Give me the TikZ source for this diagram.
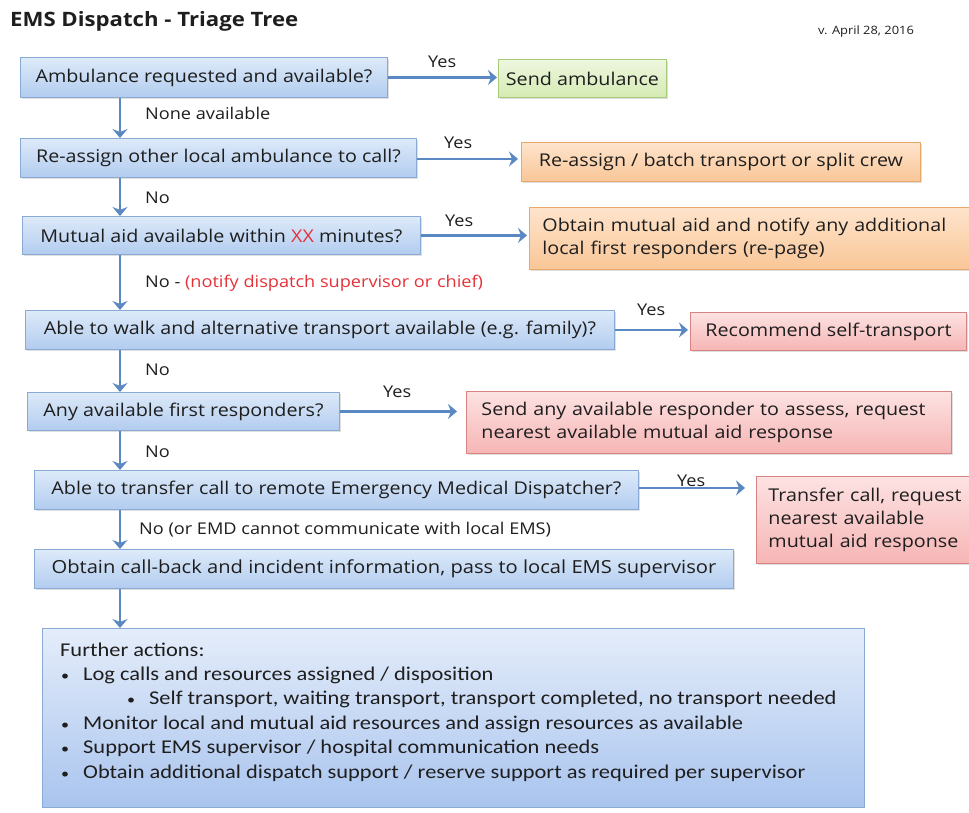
\documentclass[tikz,border=0pt]{standalone}
\usepackage{fontspec}
\setmainfont{Open Sans}[FakeStretch=1.12]
\newfontfamily\calib{Carlito}[FakeStretch=1.15]
\usetikzlibrary{arrows.meta,shadows}
\definecolor{bluetop}{HTML}{DDEAF9}
\definecolor{bluebot}{HTML}{B2CCEF}
\definecolor{fintop}{HTML}{E4EDFA}
\definecolor{finbot}{HTML}{A9C4EE}
\definecolor{blueline}{HTML}{8AAAD6}
\definecolor{greentop}{HTML}{EEF7DF}
\definecolor{greenbot}{HTML}{D5EAB3}
\definecolor{greenline}{HTML}{A6C97A}
\definecolor{orangetop}{HTML}{FEE4CC}
\definecolor{orangebot}{HTML}{F9C697}
\definecolor{orangeline}{HTML}{E8A86A}
\definecolor{redtop}{HTML}{FDE2E2}
\definecolor{redbot}{HTML}{F6B5B5}
\definecolor{redline}{HTML}{D98282}
\definecolor{arrowcol}{HTML}{5A88C2}
\definecolor{txt}{HTML}{1E1E1E}
\definecolor{redtxt}{HTML}{E5323A}
\tikzset{
  base/.style={anchor=north west, inner sep=0pt, line width=0.9pt, text=txt,
    font=\fontsize{17.6}{23}\selectfont,
    drop shadow={opacity=0.25, shadow xshift=1.2pt, shadow yshift=-1.5pt}},
  qbox/.style={base, draw=blueline, top color=bluetop, bottom color=bluebot},
  gbox/.style={base, draw=greenline, top color=greentop, bottom color=greenbot},
  obox/.style={base, draw=orangeline, top color=orangetop, bottom color=orangebot},
  rbox/.style={base, draw=redline, top color=redtop, bottom color=redbot},
  arr/.style={draw=arrowcol, line width=2.6pt, -{Stealth[length=9pt,width=15pt,inset=3pt]}},
  lbl/.style={anchor=base west, inner sep=0pt, text=txt, font=\fontsize{16.2}{20}\selectfont},
  fin/.style={anchor=base west, inner sep=0pt, text=txt, font=\calib\fontsize{19.5}{23}\selectfont},
  bul/.style={anchor=base west, inner sep=0pt, text=txt, font=\calib\fontsize{14}{16}\selectfont},
}
\begin{document}
\begin{tikzpicture}[x=1pt,y=-1pt]
\useasboundingbox[fill=white] (0,0) rectangle (969,813);
\coordinate (x120) at (120,0);
% title
\node[anchor=base west, inner sep=0pt, text=txt, font=\bfseries\fontsize{19.8}{22}\selectfont] (title) at (10,27) {EMS Dispatch - Triage Tree};
\node[anchor=base west, inner sep=0pt, text=txt, font=\fontsize{11.5}{14}\selectfont] (ver) at (818,35) {v. April 28, 2016};
% question boxes
\node[qbox, minimum width=367pt, minimum height=40pt] (q1) at (20,57) {Ambulance requested and available?};
\node[qbox, minimum width=396pt, minimum height=39pt] (q2) at (20,138) {Re-assign other local ambulance to call?};
\node[qbox, minimum width=398pt, minimum height=38pt] (q3) at (22,216) {Mutual aid available within \textcolor{redtxt}{XX} minutes?};
\node[qbox, minimum width=589pt, minimum height=39pt] (q4) at (25,310) {Able to walk and alternative transport available (e.g. family)?};
\node[qbox, minimum width=312pt, minimum height=38pt] (q5) at (27,392) {Any available first responders?};
\node[qbox, minimum width=604pt, minimum height=39pt] (q6) at (34,470) {Able to transfer call to remote Emergency Medical Dispatcher?};
\node[qbox, minimum width=699pt, minimum height=39pt, font=\fontsize{18}{23}\selectfont] (q7) at (34,549) {Obtain call-back and incident information, pass to local EMS supervisor};
% answer boxes
\node[gbox, minimum width=168pt, minimum height=38pt] (a1) at (498,59) {Send ambulance};
\node[obox, minimum width=399pt, minimum height=39pt] (a2) at (521,142) {Re-assign / batch transport or split crew};
\node[obox, minimum width=436pt, minimum height=62pt, align=left, text width=418pt, inner xsep=13pt] (a3) at (529,207) {Obtain mutual aid and notify any additional\\local first responders (re-page)};
\node[rbox, minimum width=276pt, minimum height=38pt] (a4) at (690,312) {Recommend self-transport};
\node[rbox, minimum width=471pt, minimum height=62pt, align=left, text width=455pt, inner xsep=15pt] (a5) at (466,391) {Send any available responder to assess, request\\nearest available mutual aid response};
\node[rbox, minimum width=212pt, minimum height=87pt, align=left, text width=200pt, inner xsep=12pt] (a6) at (756,476) {Transfer call, request\\nearest available\\mutual aid response};
% final box
\node[anchor=north west, inner sep=0pt, draw=blueline, line width=0.9pt, top color=fintop, bottom color=finbot, minimum width=822pt, minimum height=179pt] (fin) at (42,628) {};
\node[fin] (f0) at (60,656) {Further actions:};
\node[bul] (b1) at (61,680) {\textbullet};
\node[fin] (f1) at (83,680) {Log calls and resources assigned / disposition};
\node[bul] (b2) at (127,704) {\textbullet};
\node[fin] (f2) at (149,704) {Self transport, waiting transport, transport completed, no transport needed};
\node[bul] (b3) at (61,729) {\textbullet};
\node[fin] (f3) at (83,729) {Monitor local and mutual aid resources and assign resources as available};
\node[bul] (b4) at (61,753) {\textbullet};
\node[fin] (f4) at (83,753) {Support EMS supervisor / hospital communication needs};
\node[bul] (b5) at (61,778) {\textbullet};
\node[fin] (f5) at (83,778) {Obtain additional dispatch support / reserve support as required per supervisor};
% vertical arrows
\draw[arr] (q1.south -| x120) -- (q2.north -| x120);
\draw[arr] (q2.south -| x120) -- (q3.north -| x120);
\draw[arr] (q3.south -| x120) -- (q4.north -| x120);
\draw[arr] (q4.south -| x120) -- (q5.north -| x120);
\draw[arr] (q5.south -| x120) -- (q6.north -| x120);
\draw[arr] (q6.south -| x120) -- (q7.north -| x120);
\draw[arr] (q7.south -| x120) -- (fin.north -| x120);
% horizontal arrows
\draw[arr] (q1.east) -- ([xshift=-1pt]q1.east -| a1.west);
\draw[arr] ([yshift=-1pt]q2.east) -- ([xshift=-3pt,yshift=-1pt]q2.east -| a2.west);
\draw[arr] (q3.east) -- ([xshift=-2pt]q3.east -| a3.west);
\draw[arr] (q4.east) -- ([xshift=-2pt]q4.east -| a4.west);
\draw[arr] (q5.east) -- ([xshift=-9pt]q5.east -| a5.west);
\draw[arr] ([yshift=2pt]q6.east) -- ([xshift=-11pt,yshift=2pt]q6.east -| a6.west);
% labels
\node[lbl] (y1) at (428,68) {Yes};
\node[lbl] (y2) at (444,149) {Yes};
\node[lbl] (y3) at (445,226) {Yes};
\node[lbl] (y4) at (637,315) {Yes};
\node[lbl] (y5) at (383,397) {Yes};
\node[lbl] (y6) at (677,486) {Yes};
\node[lbl] (n1) at (145,120) {None available};
\node[lbl] (n2) at (145,204) {No};
\node[lbl] (n3) at (145,287) {No - \textcolor{redtxt}{(notify dispatch supervisor or chief)}};
\node[lbl] (n4) at (145,375) {No};
\node[lbl] (n5) at (145,457) {No};
\node[lbl] (n6) at (139,534) {No (or EMD cannot communicate with local EMS)};
\end{tikzpicture}
\end{document}
